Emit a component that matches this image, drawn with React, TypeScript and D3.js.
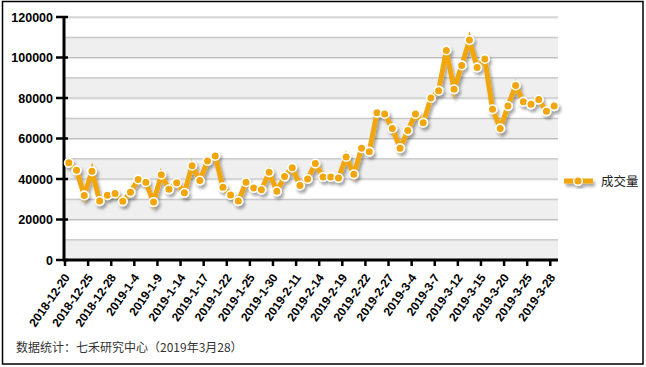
import * as d3 from "d3";

// trading days shown on the x axis
const dates = [
  "2018-12-20", "2018-12-21", "2018-12-24", "2018-12-25", "2018-12-26", "2018-12-27", "2018-12-28",
  "2019-1-2", "2019-1-3", "2019-1-4", "2019-1-7", "2019-1-8", "2019-1-9", "2019-1-10", "2019-1-11",
  "2019-1-14", "2019-1-15", "2019-1-16", "2019-1-17", "2019-1-18", "2019-1-21", "2019-1-22",
  "2019-1-23", "2019-1-24", "2019-1-25", "2019-1-28", "2019-1-29", "2019-1-30", "2019-1-31",
  "2019-2-1", "2019-2-11", "2019-2-12", "2019-2-13", "2019-2-14", "2019-2-15", "2019-2-18",
  "2019-2-19", "2019-2-20", "2019-2-21", "2019-2-22", "2019-2-25", "2019-2-26", "2019-2-27",
  "2019-2-28", "2019-3-1", "2019-3-4", "2019-3-5", "2019-3-6", "2019-3-7", "2019-3-8",
  "2019-3-11", "2019-3-12", "2019-3-13", "2019-3-14", "2019-3-15", "2019-3-18", "2019-3-19",
  "2019-3-20", "2019-3-21", "2019-3-22", "2019-3-25", "2019-3-26", "2019-3-27", "2019-3-28",
];

// 成交量
const volume = [
  48000, 44300, 31900, 43800, 29100, 32000, 32900,
  29000, 33400, 39800, 38400, 28600, 42100, 34900, 38100,
  33200, 46600, 39200, 48900, 51400, 35900, 32100,
  29100, 38400, 35600, 34700, 43300, 33900, 41200,
  45600, 36800, 40000, 47600, 41000, 41000, 40500,
  50900, 42300, 55200, 53500, 72700, 72100, 65000,
  55200, 63900, 72100, 67800, 80000, 83600, 103500,
  84300, 96100, 108600, 95100, 99300, 74400, 65000,
  76000, 86200, 78200, 76900, 79200, 73400, 76000,
];

const tickLabels = [
  "2018-12-20", "2018-12-25", "2018-12-28", "2019-1-4", "2019-1-9", "2019-1-14", "2019-1-17",
  "2019-1-22", "2019-1-25", "2019-1-30", "2019-2-11", "2019-2-14", "2019-2-19", "2019-2-22",
  "2019-2-27", "2019-3-4", "2019-3-7", "2019-3-12", "2019-3-15", "2019-3-20", "2019-3-25", "2019-3-28",
];

const yTicks = [0, 20000, 40000, 60000, 80000, 100000, 120000];
const seriesName = "成交量";
const footnote = "数据统计：七禾研究中心（2019年3月28）";

const W = 646;
const H = 367;
const left = 65, right = 558, top = 17, bottom = 260;
const orange = "#f2a60c";
const font = "'Liberation Sans', Arial, sans-serif";

export default function App() {
  const x = d3.scaleBand().domain(dates).range([left, right]);
  const y = d3.scaleLinear().domain([0, 120000]).range([bottom, top]);
  const cx = (d: string) => (x(d) as number) + x.bandwidth() / 2;

  const line = d3
    .line<number>()
    .x((_, i) => cx(dates[i]))
    .y((d) => y(d));

  // alternate 10000-high stripes
  const stripes = d3.range(0, 120000, 10000);

  return (
    <svg
      width={W}
      height={H}
      style={{ position: "fixed", left: 0, top: 0, background: "#fff" }}
    >
      <defs>
        <filter id="shadow" x="-20%" y="-20%" width="140%" height="160%">
          <feDropShadow dx="2" dy="3" stdDeviation="1.6" floodColor="#000" floodOpacity="0.35" />
        </filter>
      </defs>
      <rect x={2.5} y={1.5} width={640.5} height={362.5} fill="#fff" stroke="#000" strokeWidth={1.5} />

      {/* stripes + grid */}
      {stripes.map((v, i) => (
        <rect
          key={"s" + v}
          x={left}
          y={y(v + 10000)}
          width={right - left}
          height={y(v) - y(v + 10000)}
          fill={i % 2 === 0 ? "#efefef" : "#fff"}
        />
      ))}
      {d3.range(10000, 130000, 10000).map((v) => (
        <g key={"g" + v}>
          <line x1={left} x2={right} y1={y(v) + 1} y2={y(v) + 1} stroke="#e2e2e2" strokeWidth={1} />
          <line x1={left} x2={right} y1={y(v)} y2={y(v)} stroke="#bdbdbd" strokeWidth={1} />
        </g>
      ))}

      {/* y axis */}
      <line x1={left - 1} x2={left - 1} y1={top - 1} y2={bottom + 1} stroke="#000" strokeWidth={3} />
      {yTicks.map((t) => (
        <g key={"y" + t}>
          <line x1={left - 9} x2={left + 3} y1={y(t)} y2={y(t)} stroke="#000" strokeWidth={2.5} />
          <text
            x={53}
            y={y(t)}
            dy="0.36em"
            textAnchor="end"
            fontFamily={font}
            fontWeight="bold"
            fontSize={12.5}
            fill="#000"
          >
            {t}
          </text>
        </g>
      ))}

      {/* x axis */}
      <line x1={left - 2} x2={right} y1={bottom} y2={bottom} stroke="#000" strokeWidth={3} />
      {tickLabels.map((d) => {
        const tx = x(d) as number;
        return (
          <g key={"x" + d}>
            <line x1={tx} x2={tx} y1={bottom} y2={bottom + 6} stroke="#000" strokeWidth={2.5} />
            <text
              transform={`translate(${tx + 2},${bottom + 15}) rotate(-55)`}
              textAnchor="end"
              dy="0.35em"
              fontFamily={font}
              fontWeight="bold"
              fontSize={12}
              fill="#000"
            >
              {d}
            </text>
          </g>
        );
      })}

      {/* series */}
      <g filter="url(#shadow)">
        <path d={line(volume) || ""} fill="none" stroke={orange} strokeWidth={5} strokeLinejoin="miter" />
        {volume.map((v, i) => (
          <circle key={i} cx={cx(dates[i])} cy={y(v)} r={4.3} fill={orange} stroke="#fff" strokeWidth={1.6} />
        ))}
      </g>

      {/* legend */}
      <g filter="url(#shadow)">
        <line x1={564} x2={593} y1={181} y2={181} stroke={orange} strokeWidth={5} />
        <circle cx={578} cy={181} r={4.3} fill={orange} stroke="#fff" strokeWidth={1.6} />
      </g>
      <text x={601} y={181} dy="0.36em" fontFamily="'Noto Sans CJK SC', sans-serif" fontSize={12.5} fill="#222">
        {seriesName}
      </text>

      <text x={16} y={352} fontFamily="'Noto Sans CJK SC', 'Liberation Sans', sans-serif" fontSize={12} fill="#333">
        {footnote}
      </text>
    </svg>
  );
}
